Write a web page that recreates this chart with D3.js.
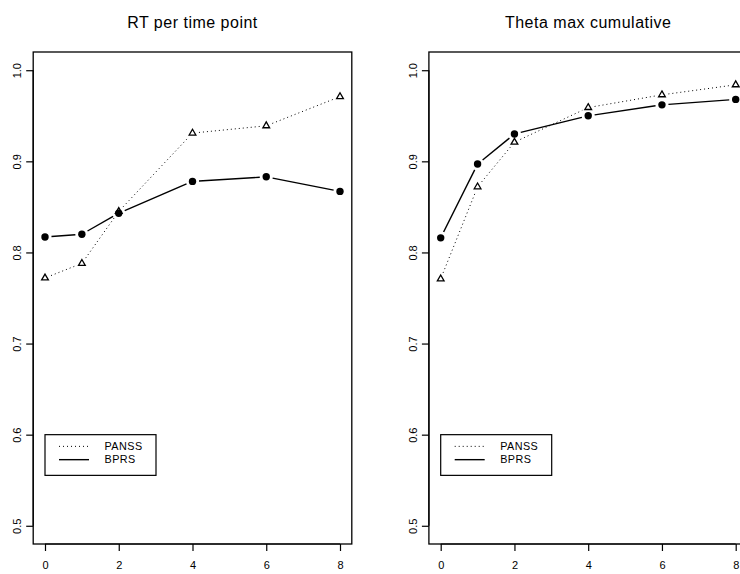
<!DOCTYPE html>
<html>
<head>
<meta charset="utf-8">
<script src="https://cdn.jsdelivr.net/npm/d3@7"></script>
<style>
  html, body { margin: 0; padding: 0; background: #fff; }
  svg { display: block; }
  text { font-family: "Liberation Sans", Arial, Helvetica, sans-serif; fill: #000; }
</style>
</head>
<body>
<svg id="chart" width="740" height="574"></svg>
<script>
// ---- data ----
const timePoints = [0, 1, 2, 4, 6, 8];
const xTicks = [0, 2, 4, 6, 8];
const yTicks = [0.5, 0.6, 0.7, 0.8, 0.9, 1.0];
const panelTitles = ["RT per time point", "Theta max cumulative"];
const seriesNames = ["PANSS", "BPRS"];
const rtPANSS = [0.772, 0.788, 0.845, 0.931, 0.939, 0.971];
const rtBPRS = [0.817, 0.820, 0.843, 0.878, 0.883, 0.867];
const thetaPANSS = [0.771, 0.872, 0.921, 0.959, 0.973, 0.984];
const thetaBPRS = [0.816, 0.897, 0.930, 0.950, 0.962, 0.968];

const panels = [
  { title: panelTitles[0], left: 33.2, right: 351.8, series: [rtPANSS, rtBPRS] },
  { title: panelTitles[1], left: 428.9, right: 747.5, series: [thetaPANSS, thetaBPRS] }
];
const plotTop = 52, plotBottom = 544;

const svg = d3.select("#chart");

// R pch=2 triangle geometry (centroid at point)
function triPath(cx, cy, s) {
  const r = 1.555 * s, xc = 1.3468 * s, yc = 0.7776 * s;
  return `M${cx},${cy - r}L${cx + xc},${cy + yc}L${cx - xc},${cy + yc}Z`;
}

panels.forEach(p => {
  const g = svg.append("g");
  const x = d3.scaleLinear().domain([-0.32, 8.32]).range([p.left, p.right]);
  const y = d3.scaleLinear().domain([0.48, 1.02]).range([plotBottom, plotTop]);

  // title
  g.append("text")
    .attr("x", (p.left + p.right) / 2)
    .attr("y", 28)
    .attr("text-anchor", "middle")
    .style("font-size", "16px")
    .style("letter-spacing", "0.5px")
    .text(p.title);

  // box
  g.append("rect")
    .attr("x", p.left).attr("y", plotTop)
    .attr("width", p.right - p.left).attr("height", plotBottom - plotTop)
    .attr("fill", "none").attr("stroke", "#000").attr("stroke-width", 1.3);

  // x axis
  const xAx = g.append("g").attr("transform", `translate(0,${plotBottom})`)
    .call(d3.axisBottom(x).tickValues(xTicks).tickSize(7).tickSizeOuter(0).tickPadding(10).tickFormat(d3.format("d")));
  xAx.select(".domain").remove();
  xAx.selectAll(".tick line").attr("stroke", "#000").attr("stroke-width", 1.2);
  xAx.selectAll(".tick text").style("font-size", "11px").attr("dy", "0.75em")
    .style("font-family", '"Liberation Sans", Arial, sans-serif');
  g.append("line")
    .attr("x1", x(xTicks[0])).attr("x2", x(xTicks[xTicks.length - 1]))
    .attr("y1", plotBottom).attr("y2", plotBottom)
    .attr("stroke", "#000").attr("stroke-width", 1.2);

  // y axis
  const yAx = g.append("g").attr("transform", `translate(${p.left},0)`)
    .call(d3.axisLeft(y).tickValues(yTicks).tickSize(7).tickSizeOuter(0).tickFormat(d3.format(".1f")));
  yAx.select(".domain").remove();
  yAx.selectAll(".tick line").attr("stroke", "#000").attr("stroke-width", 1.2);
  yAx.selectAll(".tick text")
    .attr("x", null).attr("dy", null)
    .attr("transform", "translate(-12,0) rotate(-90)")
    .attr("text-anchor", "middle")
    .attr("y", 0)
    .style("font-size", "11px")
    .style("font-family", '"Liberation Sans", Arial, sans-serif');
  g.append("line")
    .attr("x1", p.left).attr("x2", p.left)
    .attr("y1", y(yTicks[0])).attr("y2", y(yTicks[yTicks.length - 1]))
    .attr("stroke", "#000").attr("stroke-width", 1.2);

  // series: type "b" (lines with gaps around points)
  const gap = 6.5;
  p.series.forEach((vals, si) => {
    const pts = timePoints.map((t, i) => [x(t), y(vals[i])]);
    for (let i = 0; i < pts.length - 1; i++) {
      const [x0, y0] = pts[i], [x1, y1] = pts[i + 1];
      const dx = x1 - x0, dy = y1 - y0, len = Math.hypot(dx, dy);
      if (len <= 2 * gap) continue;
      const ux = dx / len, uy = dy / len;
      g.append("line")
        .attr("x1", x0 + ux * gap).attr("y1", y0 + uy * gap)
        .attr("x2", x1 - ux * gap).attr("y2", y1 - uy * gap)
        .attr("stroke", "#000")
        .attr("stroke-width", si === 0 ? 1 : 1.4)
        .attr("stroke-dasharray", si === 0 ? "1,3" : null);
    }
    if (si === 0) {
      g.selectAll(null).data(pts).enter().append("path")
        .attr("d", d => triPath(d[0], d[1], 2.5))
        .attr("fill", "none").attr("stroke", "#000").attr("stroke-width", 1.3);
    } else {
      g.selectAll(null).data(pts).enter().append("circle")
        .attr("cx", d => d[0]).attr("cy", d => d[1]).attr("r", 3.7)
        .attr("fill", "#000");
    }
  });

  // legend at (x=0, y=0.6)
  const lx = x(0), ly = y(0.6);
  const lg = g.append("g");
  lg.append("rect")
    .attr("x", lx).attr("y", ly).attr("width", 111).attr("height", 40.7)
    .attr("fill", "#fff").attr("stroke", "#000").attr("stroke-width", 1.2);
  seriesNames.forEach((name, i) => {
    const yy = ly + 11.7 + i * 13.3;
    lg.append("line")
      .attr("x1", lx + 14).attr("x2", lx + 44)
      .attr("y1", yy).attr("y2", yy)
      .attr("stroke", "#000")
      .attr("stroke-width", i === 0 ? 1 : 1.4)
      .attr("stroke-dasharray", i === 0 ? "1,3" : null);
    lg.append("text")
      .attr("x", lx + 59.5).attr("y", yy + 3.8)
      .style("font-size", "10.8px")
      .style("letter-spacing", "0.45px")
      .text(name);
  });
});
</script>
</body>
</html>
